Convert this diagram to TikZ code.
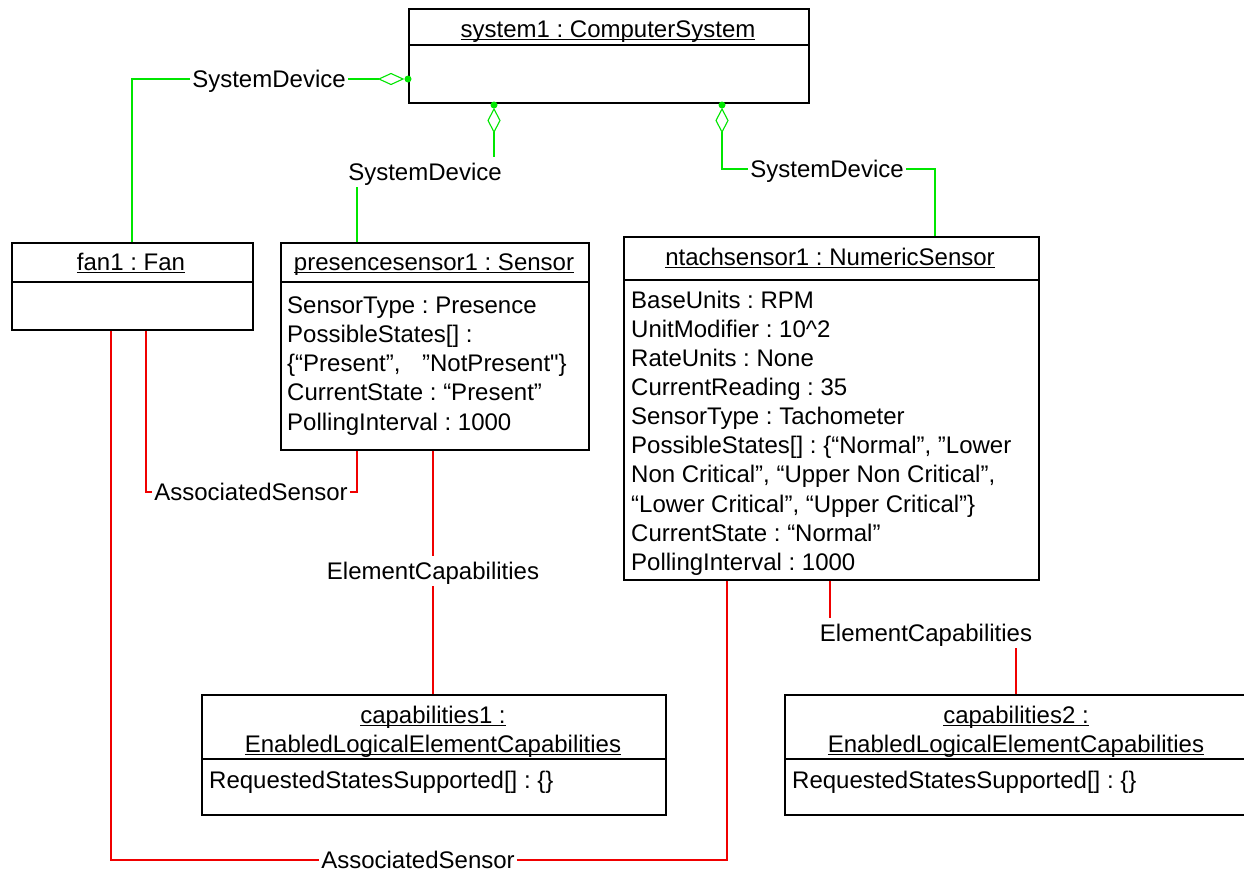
\documentclass[tikz,border=0pt]{standalone}
\usepackage{fontspec}
\setmainfont{Liberation Sans}[Ligatures=TeXOff]
\definecolor{sdgreen}{RGB}{0,230,0}
\definecolor{sdred}{RGB}{240,0,0}
\newcommand\ulin[1]{\leavevmode\setbox0\hbox{#1}\rlap{\rule[-3pt]{\wd0}{1.2pt}}\box0}
\frenchspacing
\begin{document}
\frenchspacing
\begin{tikzpicture}[x=1pt,y=-1pt,
  box/.style={draw=black,line width=1.6pt,rectangle,anchor=north west,inner sep=0pt},
  sepline/.style={draw=black,line width=1.6pt},
  txt/.style={inner sep=0pt,font=\fontsize{24}{29}\selectfont},
  lft/.style={txt,anchor=base west},
  ctr/.style={txt,anchor=base},
  lbl/.style={txt,anchor=base,text height=16pt,text depth=0pt,inner xsep=2pt,inner ysep=7pt},
  gline/.style={draw=sdgreen,line width=1.1pt},
  rline/.style={draw=sdred,line width=1.1pt},
  dia/.style={draw=sdgreen,line width=1.1pt,fill=white}]
\useasboundingbox (0,0) rectangle (1244,871);

% boxes
\node[box,minimum width=400pt,minimum height=94pt] (sys) at (408,8) {};
\node[box,minimum width=241pt,minimum height=87pt] (fan) at (11,242) {};
\node[box,minimum width=308pt,minimum height=207pt] (ps) at (280,242) {};
\node[box,minimum width=415pt,minimum height=343pt] (nt) at (623,236) {};
\node[box,minimum width=464pt,minimum height=120pt] (c1) at (201,694) {};
\node[box,minimum width=464pt,minimum height=120pt] (c2) at (784,694) {};

% separators
\draw[sepline] (sys.west |- 0,45) -- (sys.east |- 0,45);
\draw[sepline] (fan.west |- 0,282) -- (fan.east |- 0,282);
\draw[sepline] (ps.west |- 0,282) -- (ps.east |- 0,282);
\draw[sepline] (nt.west |- 0,280) -- (nt.east |- 0,280);
\draw[sepline] (c1.west |- 0,759) -- (c1.east |- 0,759);
\draw[sepline] (c2.west |- 0,759) -- (c2.east |- 0,759);

% headers
\node[ctr] (sysh) at (608,37) {\ulin{system1 : ComputerSystem}};
\node[ctr] (fanh) at (131,270) {\ulin{fan1 : Fan}};
\node[ctr] (psh) at (434,270) {\ulin{presencesensor1 : Sensor}};
\node[ctr] (nth) at (830,265) {\ulin{ntachsensor1 : NumericSensor}};
\node[ctr] (c1h1) at (433,723) {\ulin{capabilities1 :}};
\node[ctr] (c1h2) at (433,752) {\ulin{EnabledLogicalElementCapabilities}};
\node[ctr] (c2h1) at (1016,723) {\ulin{capabilities2 :}};
\node[ctr] (c2h2) at (1016,752) {\ulin{EnabledLogicalElementCapabilities}};

% attributes
\node[lft] (ps1) at (287,313.3) {SensorType : Presence};
\node[lft] (ps2) at (287,342.5) {PossibleStates[] :};
\node[lft] (ps3) at (287,371.7) {\{“Present”,\hspace{0.9em}”NotPresent"\}};
\node[lft] (ps4) at (287,400.9) {CurrentState : “Present”};
\node[lft] (ps5) at (287,430.1) {PollingInterval : 1000};

\node[lft] (nt1) at (631,308.3) {BaseUnits : RPM};
\node[lft] (nt2) at (631,337.4) {UnitModifier : 10\^{}2};
\node[lft] (nt3) at (631,366.5) {RateUnits : None};
\node[lft] (nt4) at (631,395.6) {CurrentReading : 35};
\node[lft] (nt5) at (631,424.7) {SensorType : Tachometer};
\node[lft] (nt6) at (631,453.8) {PossibleStates[] : \{“Normal”, ”Lower};
\node[lft] (nt7) at (631,482.9) {Non Critical”, “Upper Non Critical”,};
\node[lft] (nt8) at (631,512.0) {“Lower Critical”, “Upper Critical”\}};
\node[lft] (nt9) at (631,541.1) {CurrentState : “Normal”};
\node[lft] (nt10) at (631,570.2) {PollingInterval : 1000};

\node[lft] (c1b) at (209,788) {RequestedStatesSupported[] : \{\}};
\node[lft] (c2b) at (792,788) {RequestedStatesSupported[] : \{\}};

% connector labels
\node[lbl] (sd1) at (269,87) {SystemDevice};
\node[lbl] (sd2) at (425,180) {SystemDevice};
\node[lbl] (sd3) at (827,177) {SystemDevice};
\node[lbl] (as1) at (251,500) {AssociatedSensor};
\node[lbl,inner ysep=1pt] (as2) at (418,868) {AssociatedSensor};
\node[lbl] (ec1) at (433,579) {ElementCapabilities};
\node[lbl] (ec2) at (926,641) {ElementCapabilities};

% x positions
\coordinate (xa) at (132,0);
\coordinate (xb) at (357,0);
\coordinate (xc) at (494,0);
\coordinate (xd) at (722,0);
\coordinate (xe) at (935,0);
\coordinate (xf) at (111,0);
\coordinate (xg) at (146,0);
\coordinate (xh) at (433,0);
\coordinate (xi) at (727,0);
\coordinate (xj) at (830,0);
\coordinate (xk) at (1016,0);

% aggregation ends
\coordinate (dl) at (408,79);
\coordinate (dm) at (494,105);
\coordinate (dr) at (722,105);
\coordinate (dlt) at (379,79);
\coordinate (dmt) at (494,132);
\coordinate (drt) at (722,132);

% green connectors
\draw[gline] (fan.north -| xa) |- (sd1.west);
\draw[gline] (sd1.east) -- (dlt);
\draw[dia] (dlt) -- ++(12,-5.5) -- ++(12,5.5) -- ++(-12,5.5) -- cycle;
\fill[sdgreen] (dl) circle (3.5);

\draw[gline] (dmt) -- (dmt |- sd2.north);
\draw[gline] (sd2.south -| xb) -- (ps.north -| xb);
\draw[dia] (dmt) -- ++(-6,-11.5) -- ++(6,-11.5) -- ++(6,11.5) -- cycle;
\fill[sdgreen] (dm) circle (3.5);

\draw[gline] (drt) |- (sd3.west);
\draw[gline] (sd3.east) -| (nt.north -| xe);
\draw[dia] (drt) -- ++(-6,-11.5) -- ++(6,-11.5) -- ++(6,11.5) -- cycle;
\fill[sdgreen] (dr) circle (3.5);

% red connectors
\draw[rline] (fan.south -| xg) |- (as1.west);
\draw[rline] (as1.east) -| (ps.south -| xb);
\draw[rline] (fan.south -| xf) |- (as2.west);
\draw[rline] (as2.east) -| (nt.south -| xi);
\draw[rline] (ps.south -| xh) -- (ec1.north);
\draw[rline] (ec1.south) -- (c1.north -| xh);
\draw[rline] (nt.south -| xj) -- (ec2.north -| xj);
\draw[rline] (ec2.south -| xk) -- (c2.north -| xk);
\end{tikzpicture}
\end{document}
